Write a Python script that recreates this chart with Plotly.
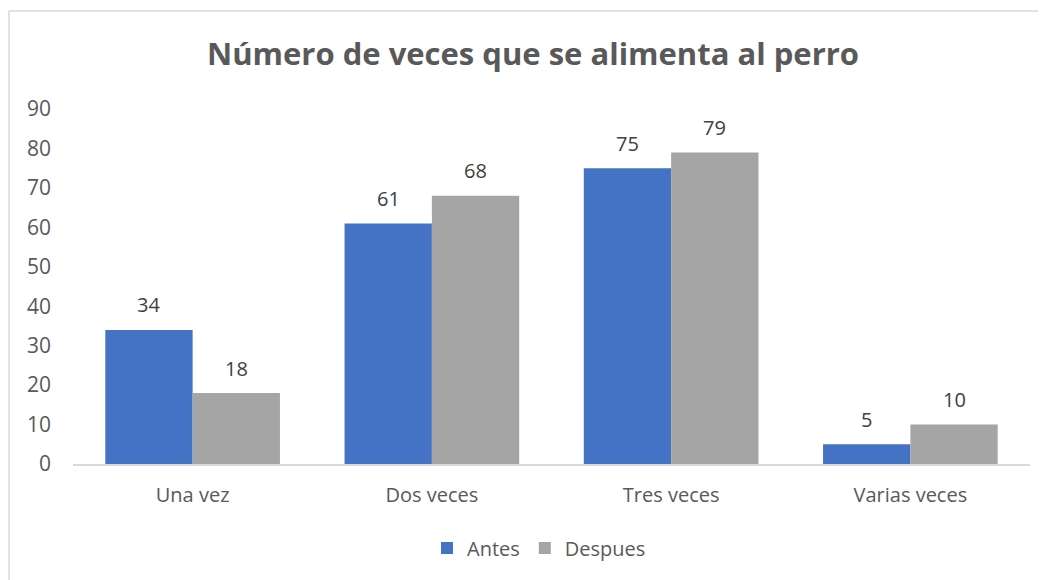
import plotly.graph_objects as go

categorias = ["Una vez", "Dos veces", "Tres veces", "Varias veces"]
antes = [34, 61, 75, 5]
despues = [18, 68, 79, 10]
y_ticks = [0, 10, 20, 30, 40, 50, 60, 70, 80, 90]

# la página tiene 8px de margen, así que la figura es 8px más pequeña
OFF = 8
W, H = 1046 - OFF, 580 - OFF
ML, MR, MT, MB = 73 - OFF, 16, 109 - OFF, 116
pw = W - ML - MR
ph = H - MT - MB

def px_x(x):
    return (x - OFF - ML) / pw

def px_y(y):
    return (H - MB - (y - OFF)) / ph

FONT = "Open Sans, Liberation Sans, sans-serif"
label_font = dict(family=FONT, size=20, color="#404040")

fig = go.Figure()
fig.add_trace(go.Bar(
    x=categorias, y=antes, name="Antes",
    marker=dict(color="#4472C4", line=dict(width=0)),
))
fig.add_trace(go.Bar(
    x=categorias, y=despues, name="Despues",
    marker=dict(color="#A5A5A5", line=dict(width=0)),
))

# etiquetas de datos encima de cada barra
shift = pw / len(categorias) * (1 - 0.27) / 4
for serie, dx in ((antes, -shift), (despues, shift)):
    for cat, val in zip(categorias, serie):
        fig.add_annotation(x=cat, y=val, text=str(val), showarrow=False,
                           xshift=dx, yshift=25, yanchor="middle", font=label_font)

# borde del gráfico (estilo Excel)
fig.add_shape(type="line", xref="paper", yref="paper",
              x0=px_x(9), x1=px_x(9), y0=px_y(11), y1=px_y(600),
              line=dict(color="#D9D9D9", width=1.5))
fig.add_shape(type="line", xref="paper", yref="paper",
              x0=px_x(9), x1=px_x(1060), y0=px_y(11), y1=px_y(11),
              line=dict(color="#D9D9D9", width=1.5))

fig.update_layout(
    width=W, height=H,
    margin=dict(l=ML, r=MR, t=MT, b=MB),
    paper_bgcolor="white", plot_bgcolor="white",
    barmode="group", bargap=0.27, bargroupgap=0,
    title=dict(text="<b>Número de veces que se alimenta al perro</b>",
               x=px_x(533), xref="paper", xanchor="center",
               y=1 - (54 - OFF) / H, yanchor="middle",
               font=dict(family=FONT, size=31, color="#595959")),
    legend=dict(orientation="h", x=px_x(539), xanchor="center", xref="paper",
                y=px_y(548), yanchor="middle",
                font=dict(family=FONT, size=20, color="#595959"),
                itemwidth=30, traceorder="normal"),
)
fig.update_xaxes(showline=True, linecolor="#D9D9D9", linewidth=1.5, ticks="",
                 ticklabelstandoff=12,
                 tickfont=dict(family=FONT, size=20, color="#595959"),
                 showgrid=False)
fig.update_yaxes(range=[0, 90], tickvals=y_ticks, showgrid=False, zeroline=False,
                 showline=False, ticks="", ticklabelstandoff=21,
                 tickfont=dict(family=FONT, size=21, color="#595959"))

fig.write_html("out.html")
